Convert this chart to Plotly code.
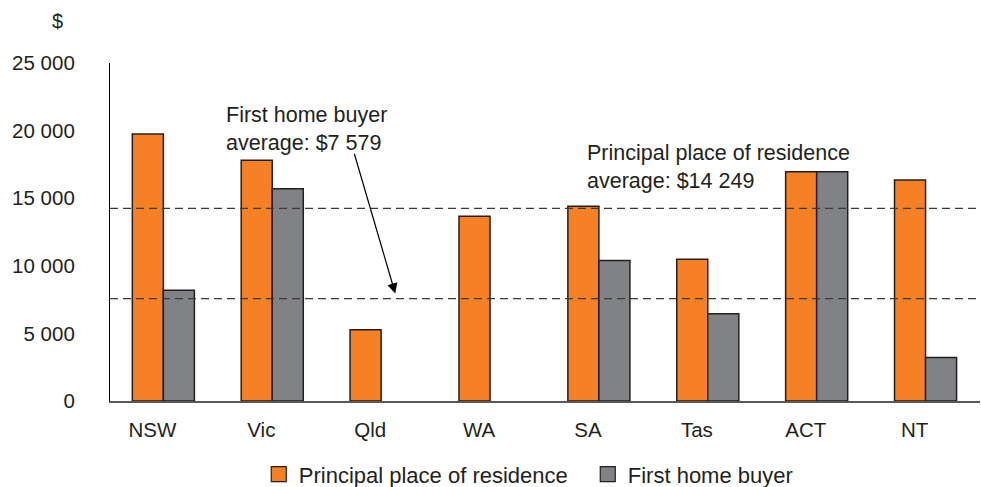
import plotly.graph_objects as go

states = ["NSW", "Vic", "Qld", "WA", "SA", "Tas", "ACT", "NT"]
principal = [19750, 17800, 5270, 13670, 14400, 10480, 16960, 16340]
first_home = [8200, 15700, None, None, 10390, 6450, 16960, 3210]
ppr_avg = 14249
fhb_avg = 7579
y_ticks = [0, 5000, 10000, 15000, 20000, 25000]
y_ticklabels = ["0", "5 000", "10 000", "15 000", "20 000", "25 000"]

ORANGE = "#f58025"
GREY = "#808285"
OUTLINE = "#231f20"
TXT = "#231f20"
FONT = "Liberation Sans, Arial, sans-serif"

xs = list(range(len(states)))

fig = go.Figure()
fig.add_trace(go.Bar(x=xs, y=principal, name="Principal place of residence",
                     marker=dict(color=ORANGE, line=dict(color=OUTLINE, width=1.5)),
                     showlegend=False))
fig.add_trace(go.Bar(x=xs, y=first_home, name="First home buyer",
                     marker=dict(color=GREY, line=dict(color=OUTLINE, width=1.5)),
                     showlegend=False))
# legend proxies
fig.add_trace(go.Scatter(x=[None], y=[None], mode="markers", name="Principal place of residence",
                         marker=dict(symbol="square", size=15, color=ORANGE,
                                     line=dict(color=OUTLINE, width=1.2))))
fig.add_trace(go.Scatter(x=[None], y=[None], mode="markers", name="First home buyer",
                         marker=dict(symbol="square", size=15, color=GREY,
                                     line=dict(color=OUTLINE, width=1.2))))

for v in (ppr_avg, fhb_avg):
    fig.add_shape(type="line", xref="paper", x0=0, x1=1, yref="y", y0=v, y1=v,
                  line=dict(color="#3a3a3a", width=1.2, dash="8px,5px"))

fig.add_annotation(xref="x", yref="y", x=0.56, y=22200, xanchor="left", yanchor="top",
                   align="left", showarrow=False,
                   text="First home buyer<br>average: $7 579",
                   font=dict(family=FONT, size=21.5, color=TXT))
fig.add_annotation(xref="x", yref="y", x=3.87, y=19400, xanchor="left", yanchor="top",
                   align="left", showarrow=False,
                   text="Principal place of residence<br>average: $14 249",
                   font=dict(family=FONT, size=21.5, color=TXT))
fig.add_annotation(xref="x", yref="y", axref="x", ayref="y",
                   x=2.13, y=7950, ax=1.75, ay=18400, text="",
                   showarrow=True, arrowhead=2, arrowsize=1.7, arrowwidth=1.2,
                   arrowcolor="#000000")
fig.add_annotation(xref="paper", yref="paper", x=-0.06, y=1.125, text="$",
                   showarrow=False, xanchor="center", yanchor="middle",
                   font=dict(family=FONT, size=20, color=TXT))

fig.update_layout(
    width=981, height=487,
    margin=dict(l=110, r=1, t=63, b=86, autoexpand=False),
    paper_bgcolor="white", plot_bgcolor="white",
    barmode="group", bargap=0.43, bargroupgap=0,
    font=dict(family=FONT, size=20.5, color=TXT),
    legend=dict(orientation="h", x=0.171, xanchor="left",
                yref="container", y=0.026, yanchor="middle",
                font=dict(family=FONT, size=22, color=TXT),
                itemwidth=30, tracegroupgap=0,
                entrywidth=284, entrywidthmode="pixels"),
    xaxis=dict(range=[-0.49, 7.5], tickmode="array", tickvals=[i - 0.1 for i in xs],
               ticktext=states, showline=True, linecolor="#58595b", linewidth=1.5,
               showgrid=False, zeroline=False, ticks="", ticklabelstandoff=10,
               tickfont=dict(family=FONT, size=20.5, color=TXT)),
    yaxis=dict(range=[0, 25000], tickmode="array", tickvals=y_ticks, ticktext=y_ticklabels,
               showline=True, linecolor="#000000", linewidth=1.2, showgrid=False,
               zeroline=False, ticks="", ticklabelstandoff=30,
               tickfont=dict(family=FONT, size=20.5, color=TXT)),
)

fig.write_html("out.html")
